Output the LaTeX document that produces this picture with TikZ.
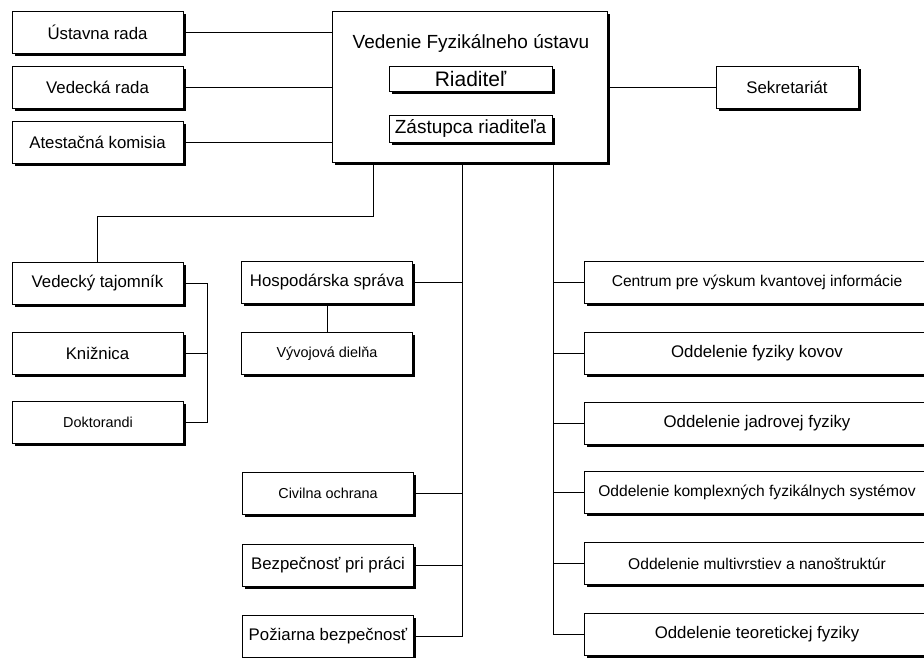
\documentclass[tikz,border=0pt]{standalone}
\usepackage{fontspec}
\setmainfont{Liberation Sans}
\usetikzlibrary{shadows}

\begin{document}
\begin{tikzpicture}
[
  x=1pt, y=-1pt,
  box/.style={draw,line width=0.9pt,fill=white,inner sep=0pt,minimum height=42pt,
    font=\fontsize{16.8}{20}\selectfont,
    drop shadow={shadow xshift=2.5pt,shadow yshift=-2.5pt,fill=black,opacity=1}},
  lbox/.style={box,minimum width=171pt},
  rbox/.style={box,minimum width=346pt},
  small/.style={font=\fontsize{14.4}{17}\selectfont},
  mid/.style={font=\fontsize{15.6}{18}\selectfont},
  conn/.style={line width=0.9pt}
]

\useasboundingbox (0,0) rectangle (924,657);
\clip (0,0) rectangle (924,657);

% management
\node[box,minimum width=275pt,minimum height=151pt] (vedenie) at (469.5,86.5) {};
\node[font=\fontsize{19}{22}\selectfont] (title) at (471,43) {Vedenie Fyzikálneho ústavu};
\node[box,minimum width=163pt,minimum height=25pt,font=\fontsize{21}{24}\selectfont] (riad) at (470.5,78.5) {Riaditeľ};
\node[box,minimum width=163pt,minimum height=27pt,font=\fontsize{19}{22}\selectfont] (zast) at (470.5,128.5) {Zástupca riaditeľa};

\node[box,minimum width=142pt] (sekr) at (787,87) {Sekretariát};

% councils
\node[lbox] (ustav) at (97.5,32.5) {Ústavna rada};
\node[lbox] (vedr) at (97.5,87.5) {Vedecká rada};
\node[lbox] (atest) at (97.5,142.5) {Atestačná komisia};

% scientific secretary
\node[lbox] (vt) at (97.5,283.5) {Vedecký tajomník};
\node[lbox] (kniz) at (97.5,353.5) {Knižnica};
\node[lbox,small] (dokt) at (98,422.5) {Doktorandi};

% services
\node[lbox] (hosp) at (327,282.5) {Hospodárska správa};
\node[lbox,small] (vyvoj) at (327,353.5) {Vývojová dielňa};
\node[lbox,small] (civil) at (328,493.5) {Civilna ochrana};
\node[lbox] (bezp) at (328,565) {Bezpečnosť pri práci};
\node[lbox] (pozar) at (328,636.5) {Požiarna bezpečnosť};

% departments
\node[rbox,mid] (centrum) at (757,282) {Centrum pre výskum kvantovej informácie};
\node[rbox] (kovov) at (757,353) {Oddelenie fyziky kovov};
\node[rbox] (jadro) at (757,423) {Oddelenie jadrovej fyziky};
\node[rbox,mid] (kompl) at (757,492) {Oddelenie komplexných fyzikálnych systémov};
\node[rbox,mid] (multi) at (757,563.5) {Oddelenie multivrstiev a nanoštruktúr};
\node[rbox] (teor) at (757,634.5) {Oddelenie teoretickej fyziky};

% connectors
\coordinate (tj) at (373,216);
\coordinate (s1) at (462,0);
\coordinate (s2) at (553,0);
\coordinate (s3) at (207,0);

\draw[conn] (ustav) -- (ustav -| vedenie.west);
\draw[conn] (vedr) -- (vedr -| vedenie.west);
\draw[conn] (atest) -- (atest -| vedenie.west);
\draw[conn] (sekr) -- (sekr -| vedenie.east);

\draw[conn] (vedenie.south -| tj) -- (tj) -| (vt.north);
\draw[conn] (vt) -- (vt -| s3) -- (dokt -| s3) -- (dokt);
\draw[conn] (kniz) -- (kniz -| s3);

\draw[conn] (vedenie.south -| s1) -- (pozar -| s1);
\draw[conn] (hosp) -- (vyvoj);
\foreach \n in {hosp,civil,bezp,pozar}
  \draw[conn] (\n) -- (\n -| s1);

\draw[conn] (vedenie.south -| s2) -- (teor -| s2);
\foreach \n in {centrum,kovov,jadro,kompl,multi,teor}
  \draw[conn] (\n) -- (\n -| s2);

\end{tikzpicture}
\end{document}
